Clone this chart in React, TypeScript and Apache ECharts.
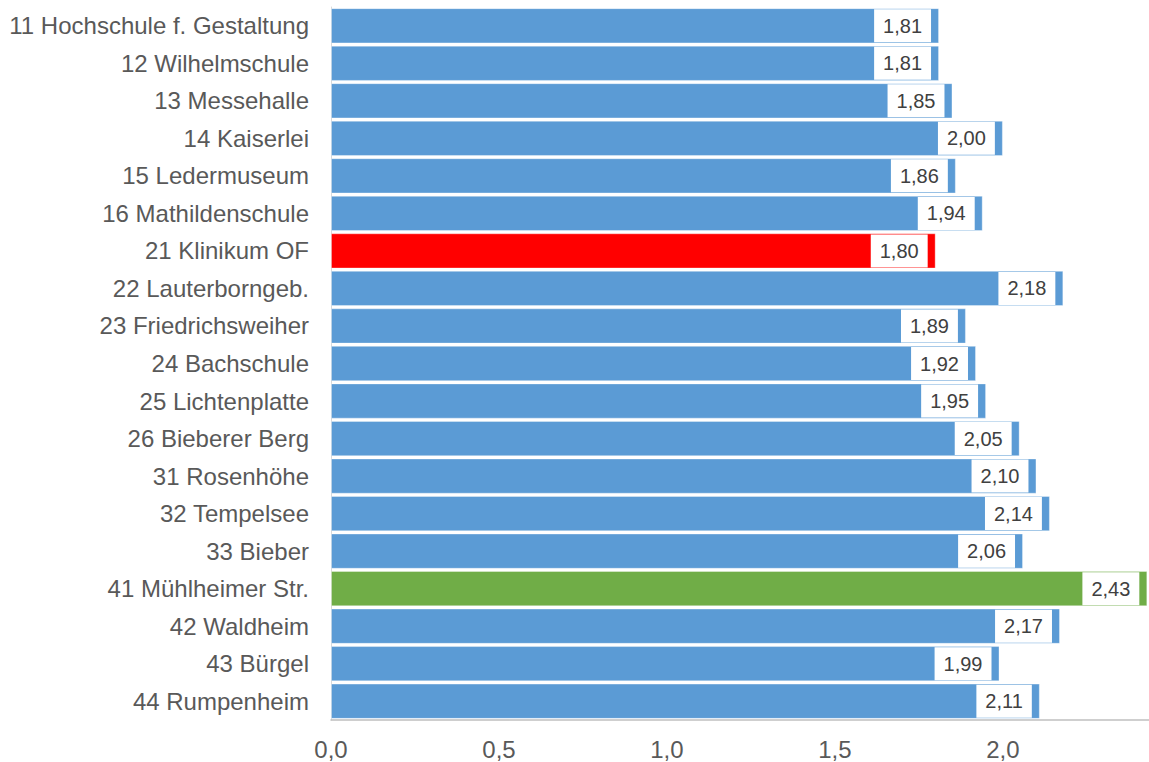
import React, { useEffect, useRef } from "react";
import * as echarts from "echarts";

const categories = [
  "11 Hochschule f. Gestaltung",
  "12 Wilhelmschule",
  "13 Messehalle",
  "14 Kaiserlei",
  "15 Ledermuseum",
  "16 Mathildenschule",
  "21 Klinikum OF",
  "22 Lauterborngeb.",
  "23 Friedrichsweiher",
  "24 Bachschule",
  "25 Lichtenplatte",
  "26 Bieberer Berg",
  "31 Rosenhöhe",
  "32 Tempelsee",
  "33 Bieber",
  "41 Mühlheimer Str.",
  "42 Waldheim",
  "43 Bürgel",
  "44 Rumpenheim",
];

const values = [1.81, 1.81, 1.85, 2.0, 1.86, 1.94, 1.8, 2.18, 1.89, 1.92, 1.95, 2.05, 2.1, 2.14, 2.06, 2.43, 2.17, 1.99, 2.11];

const highlightRed = ["21 Klinikum OF"];
const highlightGreen = ["41 Mühlheimer Str."];

const FONT = "Arial, 'Liberation Sans', sans-serif";
const fmt = (v: number, d: number) => v.toFixed(d).replace(".", ",");

export default function App() {
  const ref = useRef<HTMLDivElement>(null);
  useEffect(() => {
    if (!ref.current) return;
    const chart = echarts.init(ref.current, undefined, { renderer: "svg" });
    const data = categories.map((c, i) => {
      let color = "#5b9bd5";
      if (highlightRed.includes(c)) color = "#ff0000";
      if (highlightGreen.includes(c)) color = "#70ad47";
      return { value: values[i], itemStyle: { color } };
    });
    chart.setOption({
      animation: false,
      grid: { left: 331, right: 0, top: 7, bottom: 42, containLabel: false },
      xAxis: {
        type: "value",
        min: 0,
        max: 2.435,
        interval: 0.5,
        splitLine: { show: false },
        axisLine: { show: true, lineStyle: { color: "#bfbfbf", width: 1.5 } },
        axisTick: { show: false },
        axisLabel: {
          showMaxLabel: false,
          color: "#595959",
          fontFamily: FONT,
          fontSize: 24,
          margin: 17,
          formatter: (v: number) => (Math.abs(v * 2 - Math.round(v * 2)) < 1e-6 ? fmt(v, 1) : ""),
        },
      },
      yAxis: {
        type: "category",
        data: categories,
        inverse: true,
        axisLine: { show: true, lineStyle: { color: "#d9d9d9", width: 1 } },
        axisTick: { show: false },
        axisLabel: {
          color: "#595959",
          fontFamily: FONT,
          fontSize: 24,
          margin: 22,
        },
      },
      series: [
        {
          type: "bar",
          data,
          barCategoryGap: "6%",
          itemStyle: { borderColor: "rgba(255,255,255,0.35)", borderWidth: 1 },
          label: {
            show: true,
            position: "insideRight",
            distance: 8,
            backgroundColor: "#ffffff",
            padding: [7, 9, 6, 9],
            color: "#404040",
            fontFamily: FONT,
            fontSize: 20,
            formatter: (p: any) => fmt(p.value, 2),
          },
        },
      ],
    });
    return () => chart.dispose();
  }, []);
  return (
    <div
      ref={ref}
      style={{ position: "fixed", left: 0, top: 0, width: 1149, height: 762, background: "#fff" }}
    />
  );
}
